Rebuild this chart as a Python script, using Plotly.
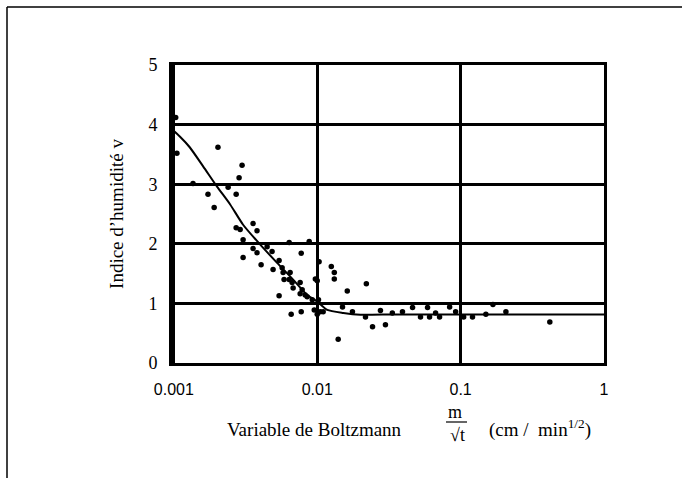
import plotly.graph_objects as go

# Scatter measurements (Boltzmann variable, humidity index)
pts_x = [0.00103, 0.00105, 0.00136, 0.00203, 0.00299, 0.00285, 0.00239, 0.00173, 0.00272, 0.00191,
         0.00272, 0.00290, 0.00357, 0.00380, 0.00304, 0.00637, 0.00879, 0.00304, 0.00357, 0.00380,
         0.00484, 0.00406, 0.00773, 0.00492, 0.00542, 0.00569, 0.00578, 0.00647, 0.00637, 0.00679,
         0.00760, 0.00785, 0.00851, 0.00542, 0.00923, 0.0103, 0.0100, 0.0102, 0.00658, 0.00773,
         0.00953, 0.0105, 0.0100, 0.01253, 0.01315, 0.01315, 0.0097, 0.0162, 0.0220, 0.0110,
         0.0150, 0.0176, 0.0217, 0.0276, 0.0334, 0.0393, 0.0243, 0.0299, 0.0140, 0.0462,
         0.0525, 0.0588, 0.0607, 0.0669, 0.0713, 0.0838, 0.0923, 0.105, 0.121, 0.150,
         0.168, 0.207, 0.419, 0.00447, 0.00587, 0.00668, 0.00824, 0.00760]
pts_y = [4.12, 3.52, 3.01, 3.62, 3.32, 3.11, 2.95, 2.83, 2.83, 2.61,
         2.27, 2.24, 2.34, 2.22, 2.07, 2.02, 2.04, 1.77, 1.92, 1.85,
         1.87, 1.65, 1.84, 1.57, 1.72, 1.60, 1.52, 1.52, 1.40, 1.26,
         1.35, 1.23, 1.11, 1.13, 1.06, 1.70, 1.38, 1.06, 0.82, 0.86,
         0.89, 0.86, 0.82, 1.62, 1.52, 1.41, 1.41, 1.21, 1.33, 0.86,
         0.94, 0.86, 0.77, 0.88, 0.84, 0.86, 0.61, 0.64, 0.40, 0.93,
         0.77, 0.93, 0.77, 0.84, 0.77, 0.94, 0.86, 0.77, 0.77, 0.82,
         0.98, 0.86, 0.69, 1.95, 1.40, 1.35, 1.14, 1.16]

# Fitted curve
fit_x = [0.00097, 0.0011, 0.00129, 0.0016, 0.0020, 0.00247, 0.00304, 0.00399, 0.00525, 0.00679,
         0.00851, 0.0100, 0.01175, 0.0152, 0.020, 0.034, 0.085, 1.0]
fit_y = [3.92, 3.80, 3.62, 3.30, 2.96, 2.66, 2.32, 1.99, 1.68, 1.40,
         1.14, 1.03, 0.89, 0.84, 0.81, 0.815, 0.815, 0.815]

x_ticks = [0.001, 0.01, 0.1, 1]
x_ticktext = ["0.001", "0.01", "0.1", "1"]
y_ticks = [0, 1, 2, 3, 4, 5]

SERIF = "Liberation Serif, Times New Roman, serif"
SANS = "Liberation Sans, Arial, sans-serif"

fig = go.Figure()
fig.add_trace(go.Scatter(x=fit_x, y=fit_y, mode="lines",
                         line=dict(color="black", width=2, shape="spline", smoothing=0.6),
                         showlegend=False, hoverinfo="skip"))
fig.add_trace(go.Scatter(x=pts_x, y=pts_y, mode="markers", marker=dict(color="black", size=5.5),
                         showlegend=False))

L, R, T, B = 172, 78, 65, 115
W, H = 682, 478
pw, ph = W - L - R, H - T - B

def px(xp):
    return (xp - L) / pw

def py(yp):
    return (H - B - yp) / ph

TF = dict(family=SERIF, size=18, color="black")

def note(text, x, y, font):
    return dict(text=text, x=px(x), y=py(y), xref="paper", yref="paper",
                xanchor="center", yanchor="middle", showarrow=False, font=font)

fig.update_layout(
    width=W, height=H,
    margin=dict(l=L, r=R, t=T, b=B, pad=0),
    paper_bgcolor="white", plot_bgcolor="white",
    xaxis=dict(type="log", range=[-3.013, 0.0], tickvals=x_ticks, ticktext=x_ticktext,
               showgrid=True, gridcolor="black", gridwidth=2.5,
               showline=True, linecolor="black", linewidth=3, mirror=True,
               ticks="", tickfont=dict(family=SANS, size=16, color="black"),
               ticklabelstandoff=10, zeroline=False, automargin=False),
    yaxis=dict(range=[0, 5], tickvals=y_ticks, showgrid=True, gridcolor="black", gridwidth=2.5,
               showline=True, linecolor="black", linewidth=3, mirror=True,
               ticks="", tickfont=dict(family=SERIF, size=18, color="black"),
               ticklabelstandoff=8, zeroline=False, automargin=False,
               title=dict(text="Indice d\u2019humidité v", font=dict(family=SERIF, size=19, color="black"),
                          standoff=20)),
    font=dict(family=SERIF, color="black"),
    shapes=[
        dict(type="line", xref="paper", yref="paper", x0=px(7), x1=px(682), y0=py(7), y1=py(7),
             line=dict(color="black", width=1.5)),
        dict(type="line", xref="paper", yref="paper", x0=px(7), x1=px(7), y0=py(7), y1=py(478),
             line=dict(color="black", width=1.5)),
        dict(type="line", xref="paper", yref="paper", x0=px(446), x1=px(467), y0=py(422), y1=py(422),
             line=dict(color="black", width=1.2)),
    ],
    annotations=[
        note("Variable de Boltzmann", 314, 429, dict(family=SERIF, size=19, color="black")),
        note("m", 455, 412, TF),
        note("\u221At", 457, 435, TF),
        note("(cm /\u00a0\u00a0min<sup>1/2</sup>)", 540, 428, dict(family=SERIF, size=19, color="black")),
    ],
)

fig.write_html("out.html", config={"displayModeBar": False},
               post_script="document.body.style.margin='0';")
